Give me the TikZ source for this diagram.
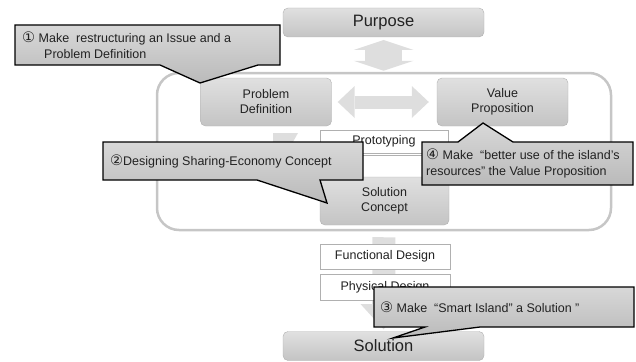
\documentclass[tikz,border=0pt]{standalone}
\usepackage{fontspec}
\setmainfont{Liberation Sans}
\newfontfamily\circfont{DejaVu Sans}
\usetikzlibrary{arrows.meta, calc}
\definecolor{boxtop}{RGB}{224, 224, 224}
\definecolor{boxbottom}{RGB}{196, 196, 196}
\definecolor{boxline}{RGB}{176, 176, 176}
\definecolor{framegray}{RGB}{198, 198, 198}
\definecolor{arrowgray}{RGB}{222, 222, 222}
\definecolor{notetop}{RGB}{216, 216, 216}
\definecolor{notebottom}{RGB}{186, 186, 186}
\definecolor{inkgray}{RGB}{34, 34, 34}
\newcommand{\circnum}[1]{{\circfont\fontsize{14.5}{14}\selectfont #1}}
\tikzset{
  endbox/.style={
    draw=boxline,
    rounded corners=5pt,
    top color=boxtop,
    bottom color=boxbottom,
    minimum width=201pt,
    minimum height=29pt,
    inner sep=0pt,
    text=inkgray,
    font=\fontsize{16.5}{18}\selectfont
  },
  stagebox/.style={
    draw=boxline,
    rounded corners=5pt,
    top color=boxtop,
    bottom color=boxbottom,
    minimum width=131pt,
    minimum height=48pt,
    inner sep=0pt,
    align=center,
    text=inkgray,
    font=\fontsize{12.5}{15}\selectfont
  },
  stepbox/.style={
    draw=boxline,
    fill=white,
    minimum width=130pt,
    inner sep=0pt,
    text=inkgray,
    font=\fontsize{12.5}{15}\selectfont
  },
  loopframe/.style={
    draw=framegray,
    line width=2.5pt,
    rounded corners=22pt,
    minimum width=454pt,
    minimum height=157pt
  },
  blockarrow/.style={
    draw=arrowgray,
    fill=arrowgray
  },
  notefill/.style={
    draw=black,
    line width=1.3pt,
    line join=miter,
    top color=notetop,
    bottom color=notebottom
  },
  notetext/.style={
    anchor=west,
    inner sep=0pt,
    align=left,
    text=inkgray,
    font=\fontsize{12.5}{16}\selectfont
  }
}
\begin{document}
\begin{tikzpicture}[x=1pt, y=-1pt]
  \useasboundingbox (0,0) rectangle (636,361);

  % outer loop
  \node[loopframe] (frame) at (384,151.5) {};

  % block arrows
  \draw[blockarrow, line width=37pt,
        {Triangle[length=10pt, width=60pt, line width=0pt]}-{Triangle[length=10pt, width=60pt, line width=0pt]},
        shorten <=3pt, shorten >=1pt]
    (383.5,37) coordinate (pbot) -- (frame.north -| pbot);
  \node[endbox] (purpose) at (383.5,22.5) {Purpose};
  \node[stagebox] (problem) at (266,102) {Problem\\Definition};
  \node[stagebox] (value) at (502.5,102) {Value\\Proposition};
  \draw[blockarrow, line width=13pt,
        {Triangle[length=17pt, width=32pt, line width=0pt]}-{Triangle[length=17pt, width=32pt, line width=0pt]},
        shorten <=6pt, shorten >=8pt]
    (problem.east) -- (value.west);
  \fill[arrowgray] (298,133) -- (273,133) -- (273,172) -- (298,172) -- (287,152.5) -- cycle;

  \node[endbox] (solution) at (383.5,346) {Solution};
  \draw[blockarrow, line width=23pt,
        -{Triangle[length=25pt, width=46pt, line width=0pt]},
        shorten <=6pt, shorten >=2pt]
    (frame.south) -- (solution.north);

  % steps
  \node[stepbox, minimum width=128pt, minimum height=23pt] (proto) at (384,141.5) {Prototyping};
  \node[stepbox, minimum width=128pt, minimum height=22pt] (blank) at (384,166) {};
  \node[stagebox, minimum width=129pt] (concept) at (384.5,201) {Solution\\Concept};
  \node[stepbox, minimum height=25pt] (functional) at (385,256.5) {Functional Design};
  \node[stepbox, minimum height=26pt] (physical) at (385,287) {Physical Design};

  % notes
  \path[notefill] (15,25) -- (280,25) -- (280,65) -- (258,65) -- (200,83) -- (160,65) -- (15,65) -- cycle;
  \node[notetext] (note1) at (22,45) {\circnum{①} Make\ \ restructuring an Issue and a\\\hspace*{22pt}Problem Definition};

  \path[notefill] (103,142) -- (363,142) -- (363,180) -- (320,180) -- (327,203) -- (257,180) -- (103,180) -- cycle;
  \node[notetext] (note2) at (110,161) {\circnum{②}Designing Sharing-Economy Concept};

  \path[notefill] (422,142) -- (458,142) -- (483,123) -- (513,142) -- (633,142) -- (633,185) -- (422,185) -- cycle;
  \node[notetext] (note4) at (426,163.5) {\circnum{④} Make\ \ “better use of the island's\\resources” the Value Proposition};

  \path[notefill] (374,287) -- (634,287) -- (634,327) -- (480,327) -- (393,338) -- (425,327) -- (374,327) -- cycle;
  \node[notetext] (note3) at (380,307) {\circnum{③} Make\ \ “Smart Island” a Solution ”};
\end{tikzpicture}
\end{document}
